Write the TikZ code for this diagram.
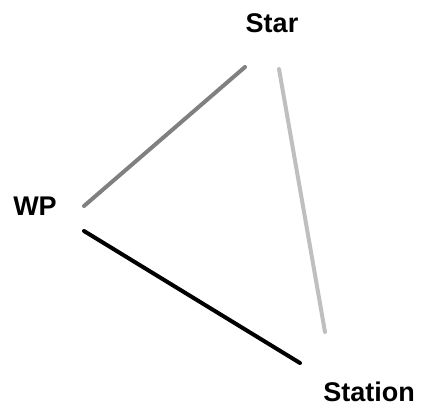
\documentclass[tikz,border=0pt]{standalone}
\usepackage{fontspec}
\setmainfont{Liberation Sans}
\usetikzlibrary{positioning, calc}
\tikzstyle{Edge} = [
%Plain thick link between the points:
line width = 4pt,
line cap = round
]

\begin{document}
\begin{tikzpicture}[
			x = 1pt, y = -1pt,
			label/.style = {font = \fontsize{27}{32}\selectfont\bfseries, inner sep = 0pt},
		]
		\useasboundingbox (0,0) rectangle (426,416);
		\node[label](Star) at (272,23){Star};
		\node[label](WP) at (35,206){WP};
		\node[label](Station) at (369,392){Station};

		\coordinate(WPtop) at (84,206);
		\coordinate(WPbot) at (84,231);
		\coordinate(StarL) at (245,67);
		\coordinate(StarR) at (279,69);
		\coordinate(StationT) at (325,332);
		\coordinate(StationL) at (300,363);

		\draw[Edge, color = black!50](WPtop)--(StarL);
		\draw[Edge, color = black!25](StarR)--(StationT);
		\draw[Edge, color = black](WPbot)--(StationL);

	\end{tikzpicture}
\end{document}
